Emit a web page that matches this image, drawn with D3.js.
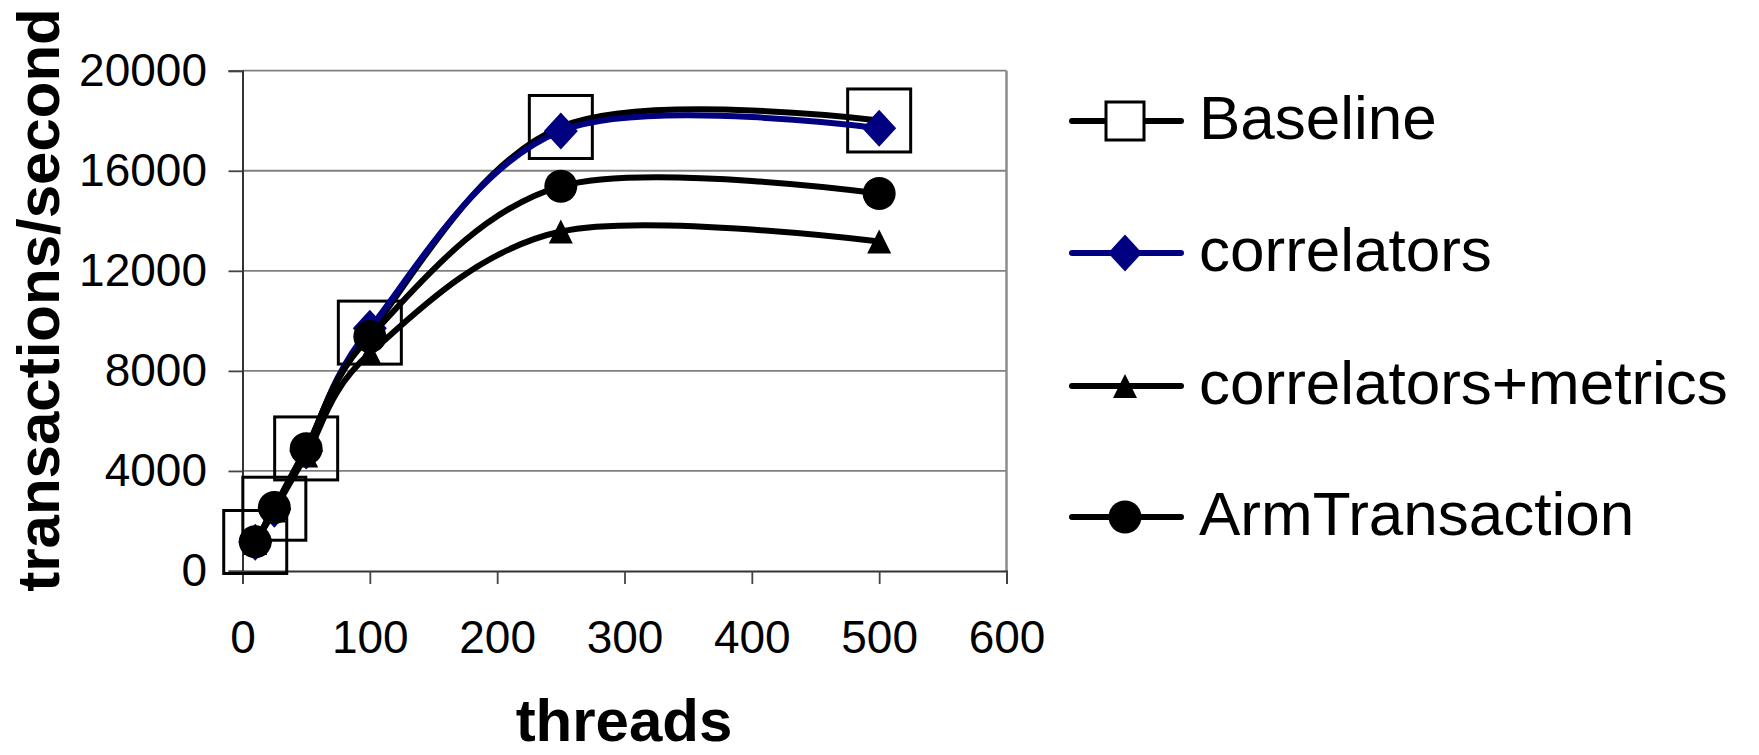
<!DOCTYPE html>
<html>
<head>
<meta charset="utf-8">
<script src="https://cdn.jsdelivr.net/npm/d3@7"></script>
<style>
  html, body { margin: 0; padding: 0; background: #fff; }
  svg { display: block; }
  text { font-family: "Liberation Sans", Arial, sans-serif; fill: #000; }
</style>
</head>
<body>
<svg id="chart" width="1759" height="755"></svg>
<script>
// ---- data ----
const threads = [10, 25, 50, 100, 250, 500];
const baseline = [1160, 2490, 4900, 9530, 17750, 18010];
const correlators = [1150, 2470, 4800, 9700, 17590, 17700];
const correlatorsMetrics = [1120, 2420, 4620, 8700, 13570, 13170];
const armTransaction = [1170, 2540, 4890, 9370, 15380, 15090];
const seriesNames = ["Baseline", "correlators", "correlators+metrics", "ArmTransaction"];
const xTicks = [0, 100, 200, 300, 400, 500, 600];
const yTicks = [0, 4000, 8000, 12000, 16000, 20000];
const xTitle = "threads";
const yTitle = "transactions/second";

// ---- layout ----
const svg = d3.select("#chart");
const pLeft = 242.5, pRight = 1006.5, pTop = 70.7, pBottom = 571;
const x = d3.scaleLinear().domain([0, 600]).range([pLeft, pRight]);
const y = d3.scaleLinear().domain([0, 20000]).range([pBottom, pTop]);

// gridlines
svg.append("g").selectAll("line").data(yTicks.filter(d => d > 0)).join("line")
  .attr("x1", pLeft).attr("x2", pRight)
  .attr("y1", d => y(d)).attr("y2", d => y(d))
  .attr("stroke", "#808080").attr("stroke-width", 1.8);
// right border
svg.append("line").attr("x1", pRight).attr("x2", pRight).attr("y1", pTop).attr("y2", pBottom)
  .attr("stroke", "#8c8c8c").attr("stroke-width", 2.5);

// axes
const yAxis = d3.axisLeft(y).tickValues(yTicks).tickSize(14).tickPadding(21.5).tickFormat(d3.format("d"));
const gy = svg.append("g").attr("transform", `translate(${pLeft},0)`).call(yAxis);
const xAxis = d3.axisBottom(x).tickValues(xTicks).tickSize(13).tickPadding(36).tickFormat(d3.format("d"));
const gx = svg.append("g").attr("transform", `translate(0,${pBottom})`).call(xAxis);
[gy, gx].forEach(g => {
  g.select(".domain").attr("stroke", "#333").attr("stroke-width", 2);
  g.selectAll(".tick line").attr("stroke", "#444").attr("stroke-width", 1.8);
  g.selectAll(".tick text").attr("font-size", 46).attr("font-family", '"Liberation Sans", Arial, sans-serif').attr("fill", "#000");
});

// titles
svg.append("text").attr("x", 624).attr("y", 741).attr("text-anchor", "middle")
  .attr("font-size", 60).attr("font-weight", "bold").text(xTitle);
svg.append("text").attr("transform", "translate(59,300) rotate(-90)").attr("text-anchor", "middle")
  .attr("font-size", 60).attr("font-weight", "bold").text(yTitle);

// ---- series ----
const navy = "#000080";
const series = [
  { name: seriesNames[0], values: baseline, color: "#000", marker: "square" },
  { name: seriesNames[1], values: correlators, color: navy, marker: "diamond" },
  { name: seriesNames[2], values: correlatorsMetrics, color: "#000", marker: "triangle" },
  { name: seriesNames[3], values: armTransaction, color: "#000", marker: "circle" }
];

const line = d3.line().x(d => x(d[0])).y(d => y(d[1])).curve(d3.curveCardinal.tension(0));

function drawMarker(g, type, cx, cy, color, legend) {
  if (type === "square") {
    const s = legend ? 38 : 63;
    g.append("rect").attr("x", cx - s / 2).attr("y", cy - s / 2).attr("width", s).attr("height", s)
      .attr("fill", legend ? "#fff" : "none").attr("stroke", "#000").attr("stroke-width", 3);
  } else if (type === "diamond") {
    const w = 17, h = 18.5;
    g.append("path").attr("d", `M${cx},${cy - h}L${cx + w},${cy}L${cx},${cy + h}L${cx - w},${cy}Z`)
      .attr("fill", color);
  } else if (type === "triangle") {
    const w = 12, h = 24;
    g.append("path").attr("d", `M${cx},${cy - h / 2}L${cx + w},${cy + h / 2}L${cx - w},${cy + h / 2}Z`)
      .attr("fill", color);
  } else if (type === "circle") {
    g.append("circle").attr("cx", cx).attr("cy", cy).attr("r", 16.5).attr("fill", color);
  }
}

series.forEach(s => {
  const g = svg.append("g");
  const pts = threads.map((t, i) => [t, s.values[i]]);
  g.append("path").attr("d", line(pts)).attr("fill", "none")
    .attr("stroke", s.color).attr("stroke-width", 6).attr("stroke-linejoin", "round");
  pts.forEach(p => drawMarker(g, s.marker, x(p[0]), y(p[1]), s.color, false));
});

// ---- legend ----
const legendY = [121, 253, 386, 517];
series.forEach((s, i) => {
  const g = svg.append("g");
  const ly = legendY[i];
  g.append("line").attr("x1", 1072).attr("x2", 1181).attr("y1", ly).attr("y2", ly)
    .attr("stroke", s.color).attr("stroke-width", 6).attr("stroke-linecap", "round");
  drawMarker(g, s.marker, 1125, ly, s.color, true);
  g.append("text").attr("x", 1199).attr("y", ly + 18).attr("font-size", 62).text(s.name);
});
</script>
</body>
</html>
